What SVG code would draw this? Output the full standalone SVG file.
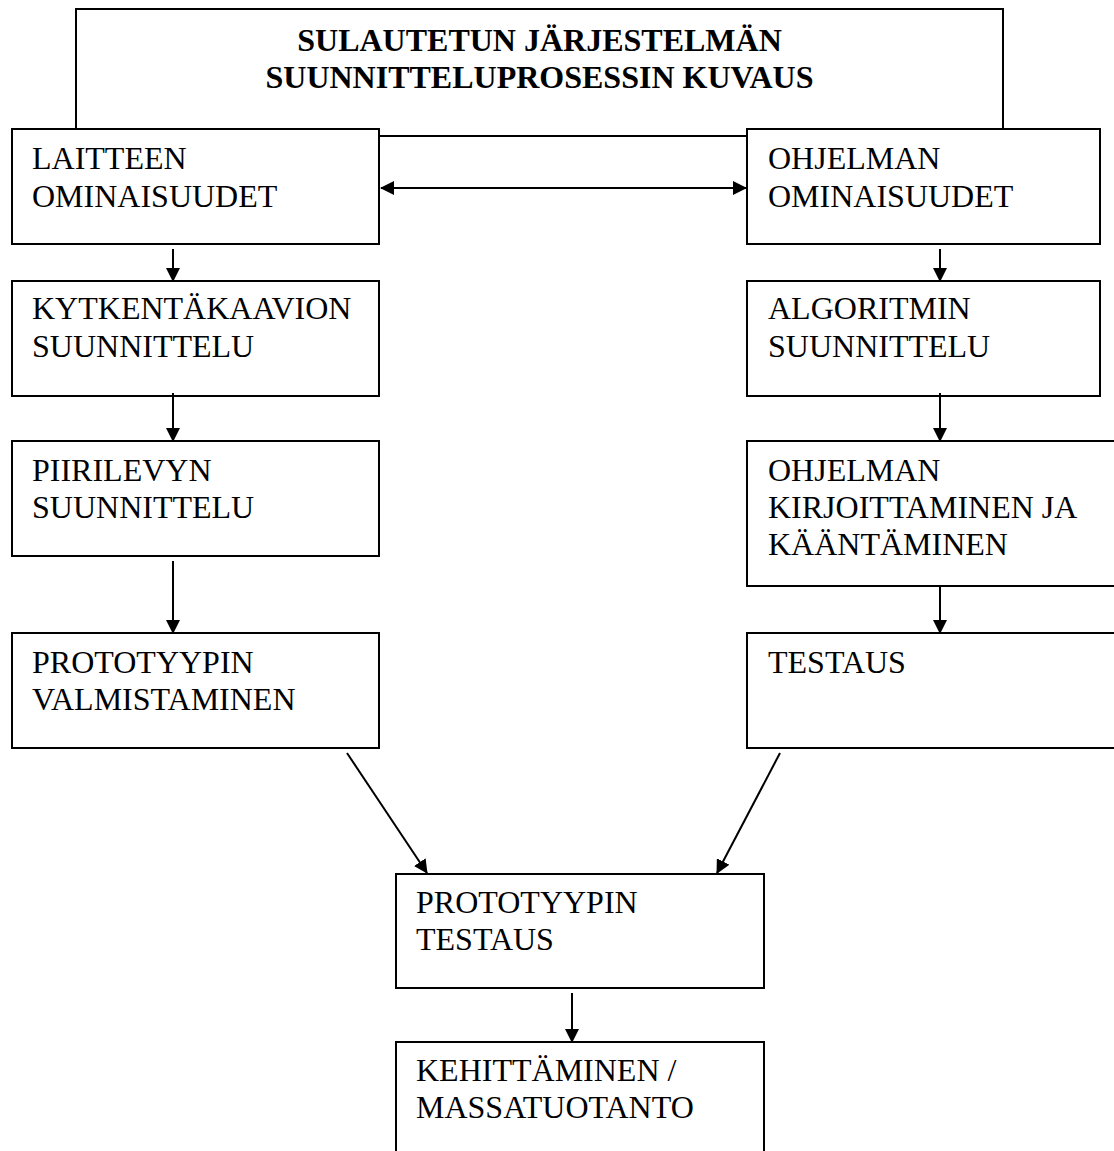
<svg xmlns="http://www.w3.org/2000/svg" width="1114" height="1151" viewBox="0 0 1114 1151">
<style>
.box{fill:#fff;stroke:#000;stroke-width:2}
.t{font-family:"Liberation Serif","Times New Roman",serif;font-size:32px;fill:#000}
.title{font-family:"Liberation Serif","Times New Roman",serif;font-size:32px;font-weight:bold;fill:#000}
.c{stroke:#000;stroke-width:2;fill:none}
</style>
<defs>
<marker id="ah" viewBox="0 0 14 14" refX="13" refY="7" markerWidth="14" markerHeight="14" orient="auto-start-reverse" markerUnits="userSpaceOnUse"><path d="M0,0 L14,7 L0,14 z" fill="#000"/></marker>
</defs>
<rect width="1114" height="1151" fill="#fff"/>
<g id="title">
<rect class="box" x="76" y="9" width="927" height="127"/>
<text class="title" x="539.5" y="51" text-anchor="middle">SULAUTETUN JÄRJESTELMÄN</text>
<text class="title" x="539.5" y="88" text-anchor="middle">SUUNNITTELUPROSESSIN KUVAUS</text>
</g>
<g id="laitteen">
<rect class="box" x="12" y="129" width="367" height="115"/>
<text class="t" x="32" y="169">LAITTEEN</text>
<text class="t" x="32" y="207">OMINAISUUDET</text>
</g>
<g id="ohjelman">
<rect class="box" x="747" y="129" width="353" height="115"/>
<text class="t" x="768" y="169">OHJELMAN</text>
<text class="t" x="768" y="207">OMINAISUUDET</text>
</g>
<g id="kytkenta">
<rect class="box" x="12" y="281" width="367" height="115"/>
<text class="t" x="32" y="319">KYTKENTÄKAAVION</text>
<text class="t" x="32" y="357">SUUNNITTELU</text>
</g>
<g id="algoritmi">
<rect class="box" x="747" y="281" width="353" height="115"/>
<text class="t" x="768" y="319">ALGORITMIN</text>
<text class="t" x="768" y="357">SUUNNITTELU</text>
</g>
<g id="piirilevy">
<rect class="box" x="12" y="441" width="367" height="115"/>
<text class="t" x="32" y="481">PIIRILEVYN</text>
<text class="t" x="32" y="518">SUUNNITTELU</text>
</g>
<g id="kirjoittaminen">
<rect class="box" x="747" y="441" width="380" height="145"/>
<text class="t" x="768" y="481">OHJELMAN</text>
<text class="t" x="768" y="518">KIRJOITTAMINEN JA</text>
<text class="t" x="768" y="555">KÄÄNTÄMINEN</text>
</g>
<g id="valmistaminen">
<rect class="box" x="12" y="633" width="367" height="115"/>
<text class="t" x="32" y="673">PROTOTYYPIN</text>
<text class="t" x="32" y="710">VALMISTAMINEN</text>
</g>
<g id="testaus">
<rect class="box" x="747" y="633" width="380" height="115"/>
<text class="t" x="768" y="673">TESTAUS</text>
</g>
<g id="prototyypin-testaus">
<rect class="box" x="396" y="874" width="368" height="114"/>
<text class="t" x="416" y="913">PROTOTYYPIN</text>
<text class="t" x="416" y="950">TESTAUS</text>
</g>
<g id="kehittaminen">
<rect class="box" x="396" y="1042" width="368" height="130"/>
<text class="t" x="416" y="1081">KEHITTÄMINEN /</text>
<text class="t" x="416" y="1118">MASSATUOTANTO</text>
</g>
<g id="connectors">
<line class="c" x1="381" y1="188" x2="746" y2="188" stroke-width="3" marker-start="url(#ah)" marker-end="url(#ah)"/>
<line class="c" x1="173" y1="249" x2="173" y2="281" marker-end="url(#ah)"/>
<line class="c" x1="173" y1="393" x2="173" y2="441" marker-end="url(#ah)"/>
<line class="c" x1="173" y1="561" x2="173" y2="633" marker-end="url(#ah)"/>
<line class="c" x1="940" y1="249" x2="940" y2="281" marker-end="url(#ah)"/>
<line class="c" x1="940" y1="393" x2="940" y2="441" marker-end="url(#ah)"/>
<line class="c" x1="940" y1="586" x2="940" y2="633" marker-end="url(#ah)"/>
<line class="c" x1="347" y1="753" x2="427" y2="873" marker-end="url(#ah)"/>
<line class="c" x1="780" y1="753" x2="717" y2="873" marker-end="url(#ah)"/>
<line class="c" x1="572" y1="993" x2="572" y2="1042" marker-end="url(#ah)"/>
</g>
</svg>
